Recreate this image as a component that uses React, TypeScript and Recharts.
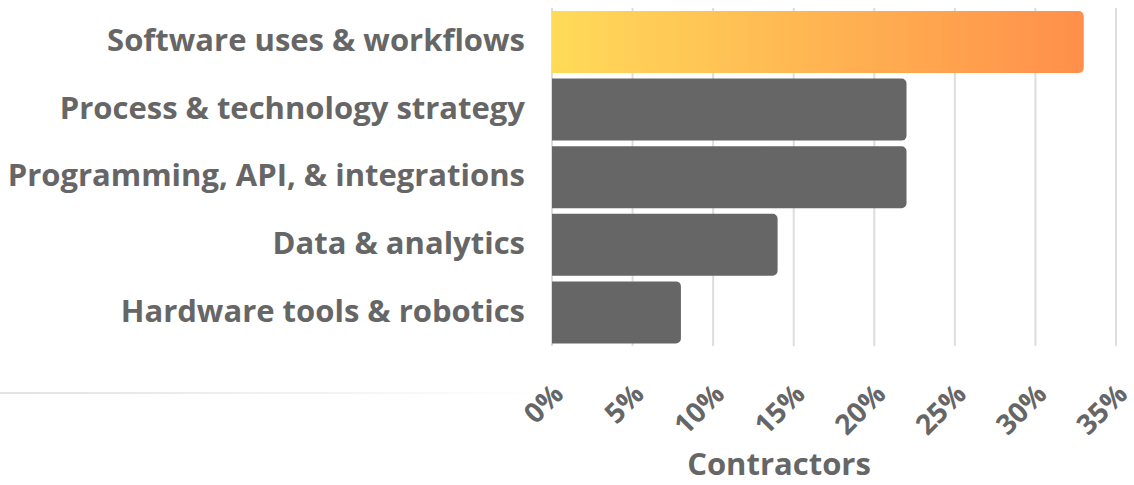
import React from "react";
import { BarChart, Bar, XAxis, YAxis, CartesianGrid, Cell, Label } from "recharts";

const categories = [
  "Software uses & workflows",
  "Process & technology strategy",
  "Programming, API, & integrations",
  "Data & analytics",
  "Hardware tools & robotics",
];
const values = [33, 22, 22, 14, 8];
const xTicks = [0, 5, 10, 15, 20, 25, 30, 35];
const highlightIndex = 0;

const data = categories.map((name, i) => ({ name, value: values[i] }));

const FONT = "'Open Sans', 'Noto Sans', sans-serif";
const TEXT = "#666666";

const YTick = (props: any) => {
  const { x, y, payload } = props;
  return (
    <text x={x} y={y} dy="0.3em" textAnchor="end" fill={TEXT} fontFamily={FONT} fontWeight={700} fontSize={31}>
      {payload.value}
    </text>
  );
};

const XTick = (props: any) => {
  const { x, y, payload } = props;
  return (
    <g transform={`translate(${x + 13},${y + 50}) rotate(-45)`}>
      <text x={0} y={0} textAnchor="end" fill={TEXT} fontFamily={FONT} fontWeight={700} fontSize={28}>
        {`${payload.value}%`}
      </text>
    </g>
  );
};

export default function App() {
  return (
    <div style={{ position: "absolute", left: 0, top: 0, width: 1134, height: 485, background: "#fff" }}>
      <div
        style={{
          position: "absolute",
          left: 0,
          top: 392,
          width: 550,
          height: 2,
          background: "linear-gradient(to right, #e2e2e2, #ffffff)",
        }}
      />
      <BarChart
        width={1134}
        height={485}
        data={data}
        layout="vertical"
        margin={{ top: 8, right: 18, bottom: 0, left: 0 }}
        style={{ position: "absolute", left: 0, top: 0 }}
      >
        <defs>
          <linearGradient id="hl" x1="0" y1="0" x2="1" y2="0">
            <stop offset="0%" stopColor="#FFDB59" />
            <stop offset="100%" stopColor="#FF8F4B" />
          </linearGradient>
        </defs>
        <CartesianGrid horizontal={false} stroke="#dddddd" strokeWidth={2} />
        <XAxis
          type="number"
          domain={[0, 35]}
          ticks={xTicks}
          interval={0}
          axisLine={false}
          tickLine={false}
          tickSize={0}
          tickMargin={0}
          height={139}
          tick={<XTick />}
        >
          <Label
            value="Contractors"
            position="insideBottom"
            offset={10}
            dx={-55}
            fill={TEXT}
            fontFamily={FONT}
            fontWeight={700}
            fontSize={31}
          />
        </XAxis>
        <YAxis
          type="category"
          dataKey="name"
          width={552}
          axisLine={false}
          tickLine={false}
          tickSize={0}
          tickMargin={27}
          interval={0}
          tick={<YTick />}
        />
        <Bar dataKey="value" barSize={62} radius={[0, 5, 5, 0]} isAnimationActive={false}>
          {data.map((d, i) => (
            <Cell key={d.name} fill={i === highlightIndex ? "url(#hl)" : "#666666"} />
          ))}
        </Bar>
      </BarChart>
    </div>
  );
}
